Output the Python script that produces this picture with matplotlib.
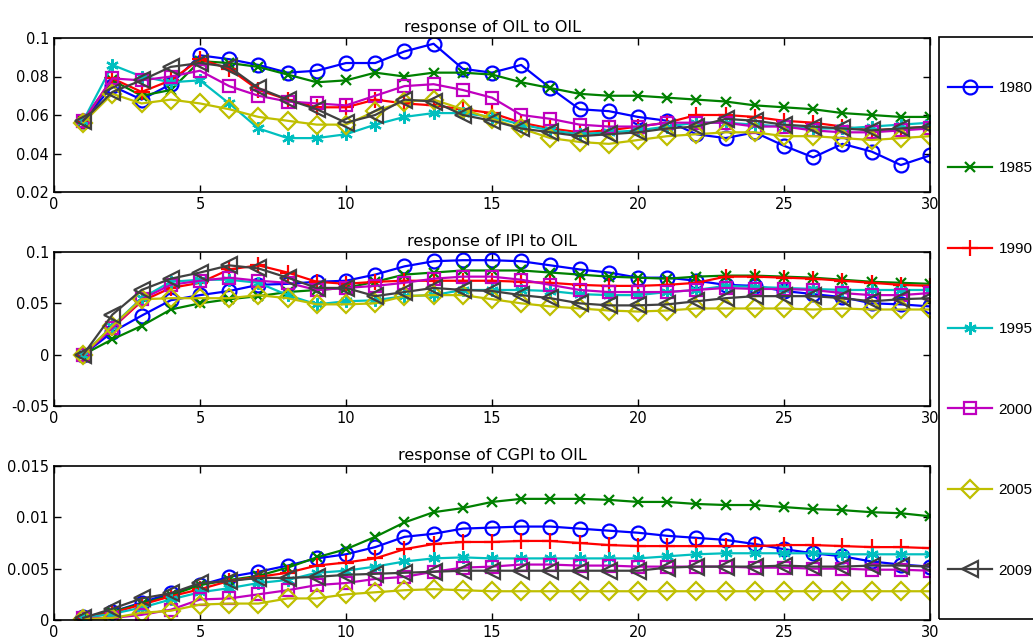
import numpy as np
import matplotlib
matplotlib.use("Agg")
import matplotlib.pyplot as plt
from matplotlib.patches import Rectangle

horizon = np.arange(1, 31)
years = ['1980', '1985', '1990', '1995', '2000', '2005', '2009']

# response of OIL to OIL
oil_1980 = [0.057, 0.075, 0.068, 0.076, 0.091, 0.089, 0.086, 0.082, 0.083, 0.087, 0.087, 0.093, 0.097, 0.084, 0.082,
            0.086, 0.074, 0.063, 0.062, 0.059, 0.057, 0.050, 0.048, 0.051, 0.044, 0.038, 0.045, 0.041, 0.034, 0.039]
oil_1985 = [0.057, 0.078, 0.070, 0.073, 0.088, 0.087, 0.085, 0.081, 0.077, 0.078, 0.082, 0.080, 0.082, 0.082, 0.081,
            0.077, 0.074, 0.071, 0.070, 0.070, 0.069, 0.068, 0.067, 0.065, 0.064, 0.063, 0.061, 0.060, 0.059, 0.059]
oil_1990 = [0.057, 0.079, 0.072, 0.078, 0.089, 0.084, 0.073, 0.068, 0.064, 0.064, 0.068, 0.066, 0.065, 0.063, 0.061,
            0.056, 0.053, 0.051, 0.052, 0.054, 0.056, 0.060, 0.060, 0.059, 0.057, 0.056, 0.054, 0.052, 0.053, 0.054]
oil_1995 = [0.057, 0.086, 0.080, 0.077, 0.078, 0.066, 0.053, 0.048, 0.048, 0.050, 0.055, 0.059, 0.061, 0.061, 0.059,
            0.055, 0.052, 0.050, 0.051, 0.052, 0.054, 0.056, 0.056, 0.055, 0.054, 0.053, 0.053, 0.054, 0.055, 0.056]
oil_2000 = [0.057, 0.079, 0.078, 0.080, 0.083, 0.075, 0.070, 0.067, 0.066, 0.065, 0.070, 0.075, 0.076, 0.073, 0.069,
            0.060, 0.058, 0.055, 0.054, 0.054, 0.056, 0.056, 0.056, 0.054, 0.054, 0.052, 0.051, 0.051, 0.052, 0.053]
oil_2005 = [0.056, 0.071, 0.066, 0.068, 0.066, 0.063, 0.059, 0.057, 0.055, 0.055, 0.062, 0.067, 0.068, 0.063, 0.058,
            0.053, 0.048, 0.046, 0.045, 0.047, 0.049, 0.050, 0.051, 0.051, 0.049, 0.049, 0.048, 0.047, 0.048, 0.049]
oil_2009 = [0.057, 0.072, 0.078, 0.085, 0.087, 0.085, 0.074, 0.068, 0.063, 0.056, 0.060, 0.068, 0.067, 0.060, 0.057,
            0.053, 0.051, 0.049, 0.050, 0.051, 0.053, 0.054, 0.058, 0.057, 0.055, 0.054, 0.053, 0.052, 0.053, 0.054]

# response of IPI to OIL
ipi_1980 = [0.0, 0.022, 0.038, 0.053, 0.058, 0.062, 0.068, 0.069, 0.071, 0.072, 0.078, 0.086, 0.091, 0.092, 0.092,
            0.091, 0.087, 0.083, 0.080, 0.075, 0.075, 0.072, 0.068, 0.067, 0.062, 0.059, 0.056, 0.050, 0.049, 0.047]
ipi_1985 = [0.0, 0.015, 0.028, 0.044, 0.050, 0.054, 0.057, 0.061, 0.063, 0.065, 0.071, 0.078, 0.080, 0.082, 0.082,
            0.082, 0.080, 0.078, 0.076, 0.075, 0.074, 0.076, 0.077, 0.077, 0.076, 0.075, 0.073, 0.071, 0.070, 0.069]
ipi_1990 = [0.0, 0.026, 0.052, 0.065, 0.070, 0.083, 0.087, 0.080, 0.071, 0.069, 0.071, 0.072, 0.072, 0.072, 0.072,
            0.071, 0.070, 0.068, 0.067, 0.067, 0.068, 0.070, 0.076, 0.076, 0.075, 0.074, 0.072, 0.070, 0.068, 0.067]
ipi_1995 = [0.0, 0.028, 0.055, 0.071, 0.073, 0.073, 0.070, 0.058, 0.049, 0.052, 0.053, 0.057, 0.058, 0.063, 0.063,
            0.063, 0.062, 0.059, 0.058, 0.058, 0.061, 0.063, 0.067, 0.066, 0.065, 0.064, 0.063, 0.063, 0.063, 0.063]
ipi_2000 = [0.0, 0.026, 0.054, 0.068, 0.072, 0.075, 0.072, 0.070, 0.063, 0.065, 0.067, 0.070, 0.074, 0.076, 0.076,
            0.073, 0.068, 0.063, 0.061, 0.061, 0.061, 0.063, 0.065, 0.064, 0.064, 0.063, 0.060, 0.058, 0.058, 0.060]
ipi_2005 = [0.0, 0.028, 0.054, 0.055, 0.055, 0.055, 0.058, 0.055, 0.049, 0.049, 0.050, 0.057, 0.058, 0.058, 0.054,
            0.050, 0.047, 0.045, 0.043, 0.042, 0.043, 0.045, 0.045, 0.045, 0.045, 0.044, 0.045, 0.044, 0.044, 0.044]
ipi_2009 = [0.0, 0.039, 0.063, 0.074, 0.080, 0.087, 0.084, 0.075, 0.065, 0.065, 0.057, 0.061, 0.065, 0.063, 0.062,
            0.058, 0.055, 0.050, 0.048, 0.048, 0.049, 0.052, 0.055, 0.057, 0.057, 0.057, 0.055, 0.052, 0.054, 0.055]

# response of CGPI to OIL
cgpi_1980 = [0.0003, 0.0008, 0.0017, 0.0026, 0.0034, 0.0042, 0.0047, 0.0053, 0.0060, 0.0064, 0.0071, 0.0081, 0.0084, 0.0089, 0.0090,
             0.0091, 0.0091, 0.0089, 0.0087, 0.0085, 0.0082, 0.0080, 0.0078, 0.0074, 0.0069, 0.0065, 0.0062, 0.0057, 0.0054, 0.0052]
cgpi_1985 = [0.0002, 0.0008, 0.0016, 0.0024, 0.0034, 0.0039, 0.0043, 0.0051, 0.0061, 0.0069, 0.0081, 0.0095, 0.0105, 0.0109, 0.0115,
             0.0118, 0.0118, 0.0118, 0.0117, 0.0115, 0.0115, 0.0113, 0.0112, 0.0112, 0.0110, 0.0108, 0.0107, 0.0105, 0.0104, 0.0101]
cgpi_1990 = [0.0002, 0.0007, 0.0015, 0.0023, 0.0030, 0.0038, 0.0042, 0.0046, 0.0053, 0.0056, 0.0060, 0.0069, 0.0074, 0.0076, 0.0076,
             0.0077, 0.0077, 0.0075, 0.0073, 0.0072, 0.0072, 0.0072, 0.0072, 0.0072, 0.0073, 0.0073, 0.0072, 0.0071, 0.0071, 0.0070]
cgpi_1995 = [0.0002, 0.0006, 0.0012, 0.0020, 0.0027, 0.0031, 0.0036, 0.0039, 0.0046, 0.0048, 0.0052, 0.0057, 0.0060, 0.0061, 0.0060,
             0.0060, 0.0060, 0.0060, 0.0060, 0.0060, 0.0062, 0.0064, 0.0065, 0.0065, 0.0065, 0.0065, 0.0064, 0.0064, 0.0064, 0.0064]
cgpi_2000 = [0.0002, 0.0002, 0.0005, 0.0010, 0.0020, 0.0021, 0.0025, 0.0029, 0.0034, 0.0036, 0.0040, 0.0042, 0.0047, 0.0051, 0.0052,
             0.0054, 0.0054, 0.0053, 0.0053, 0.0052, 0.0052, 0.0052, 0.0052, 0.0051, 0.0051, 0.0050, 0.0050, 0.0049, 0.0049, 0.0048]
cgpi_2005 = [0.0001, 0.0002, 0.0007, 0.0009, 0.0015, 0.0016, 0.0016, 0.0021, 0.0021, 0.0025, 0.0027, 0.0029, 0.0030, 0.0029, 0.0028,
             0.0028, 0.0028, 0.0028, 0.0028, 0.0028, 0.0028, 0.0028, 0.0028, 0.0028, 0.0028, 0.0028, 0.0028, 0.0028, 0.0028, 0.0028]
cgpi_2009 = [0.0002, 0.0011, 0.0021, 0.0026, 0.0036, 0.0038, 0.0041, 0.0041, 0.0042, 0.0044, 0.0045, 0.0046, 0.0047, 0.0048, 0.0048,
             0.0048, 0.0048, 0.0048, 0.0048, 0.0048, 0.0051, 0.0052, 0.0052, 0.0052, 0.0053, 0.0052, 0.0052, 0.0053, 0.0053, 0.0052]

panel_titles = ['response of OIL to OIL', 'response of IPI to OIL', 'response of CGPI to OIL']
panel_series = [
    [oil_1980, oil_1985, oil_1990, oil_1995, oil_2000, oil_2005, oil_2009],
    [ipi_1980, ipi_1985, ipi_1990, ipi_1995, ipi_2000, ipi_2005, ipi_2009],
    [cgpi_1980, cgpi_1985, cgpi_1990, cgpi_1995, cgpi_2000, cgpi_2005, cgpi_2009],
]
panel_yticks = [[0.02, 0.04, 0.06, 0.08, 0.1], [-0.05, 0, 0.05, 0.1], [0, 0.005, 0.01, 0.015]]
panel_yticklabels = [['0.02', '0.04', '0.06', '0.08', '0.1'], ['-0.05', '0', '0.05', '0.1'],
                     ['0', '0.005', '0.01', '0.015']]
xticks = [0, 5, 10, 15, 20, 25, 30]

colors = ['#0000ff', '#008000', '#ff0000', '#00bfbf', '#bf00bf', '#bfbf00', '#404040']
markers = ['o', 'x', '+', (6, 2, 0), 's', 'D', '<']
msizes = [10, 7, 11, 9, 9, 9, 11]

fig = plt.figure(figsize=(10.33, 6.38), dpi=100)
W, H = 1033.0, 638.0
# axes boxes in pixels: (left, top, right, bottom)
boxes = [(54, 38, 930, 192), (54, 252, 930, 406), (54, 466, 930, 620)]

handles = []
for p, (l, t, r, b) in enumerate(boxes):
    ax = fig.add_axes([l / W, 1 - b / H, (r - l) / W, (b - t) / H])
    for i, vals in enumerate(panel_series[p]):
        ln, = ax.plot(horizon, vals, color=colors[i], marker=markers[i], markersize=msizes[i],
                      markerfacecolor='none', markeredgewidth=1.6, linewidth=1.6, label=years[i])
        if p == 0:
            handles.append(ln)
    ax.set_xlim(0, 30)
    ax.set_ylim(panel_yticks[p][0], panel_yticks[p][-1])
    ax.set_xticks(xticks)
    ax.set_yticks(panel_yticks[p])
    ax.set_yticklabels(panel_yticklabels[p])
    ax.tick_params(direction='in', top=True, right=True, labelsize=10.5, length=5, width=1)
    for s in ax.spines.values():
        s.set_linewidth(1.2)
    ax.set_title(panel_titles[p], fontsize=11.5, pad=4)

# legend box (extends past the right edge, as in the original)
fig.patches.append(Rectangle((939 / W, 1 - 619 / H), 120 / W, (619 - 37) / H,
                             transform=fig.transFigure, fill=False, edgecolor='black', linewidth=1.2))
fig.legend(handles=handles, labels=years, loc='upper left', bbox_to_anchor=(948 / W, 1 - 81 / H),
           prop={'family': 'Liberation Sans', 'size': 11}, frameon=False,
           labelspacing=4.35, handlelength=2.9, borderpad=0, handletextpad=0.4, borderaxespad=0)

fig.savefig('out.png', dpi=100)
